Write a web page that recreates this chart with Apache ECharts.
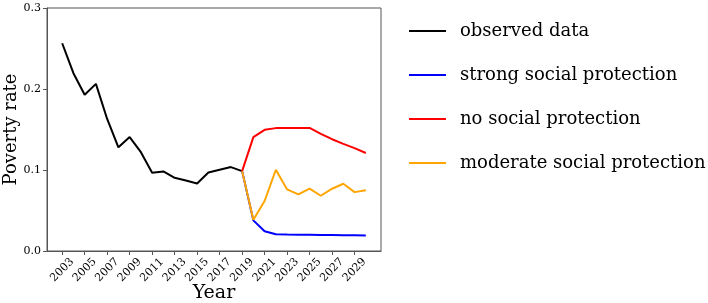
<!DOCTYPE html>
<html><head><meta charset="utf-8">
<script src="https://cdn.jsdelivr.net/npm/echarts@6/dist/echarts.min.js"></script>
<style>html,body{margin:0;padding:0;background:#fff}#c{width:708px;height:303px}</style>
</head><body><div id="c"></div>
<script>
const observedYears = [2003,2004,2005,2006,2007,2008,2009,2010,2011,2012,2013,2014,2015,2016,2017,2018,2019];
const observed = [0.2565,0.2195,0.1928,0.2063,0.163,0.128,0.1406,0.122,0.0966,0.0982,0.0904,0.0871,0.0834,0.097,0.1003,0.1036,0.0986];
const scenarioYears = [2019,2020,2021,2022,2023,2024,2025,2026,2027,2028,2029,2030];
const strong = [0.0986,0.0378,0.0243,0.0206,0.0203,0.0202,0.0201,0.0199,0.0197,0.0195,0.0193,0.0190];
const noProt = [0.0986,0.1406,0.1496,0.1517,0.152,0.152,0.152,0.1447,0.138,0.1323,0.127,0.121];
const moderate = [0.0986,0.0386,0.0617,0.1003,0.076,0.0699,0.0769,0.0682,0.0769,0.083,0.0727,0.0749];
const yearTicks = [2003,2005,2007,2009,2011,2013,2015,2017,2019,2021,2023,2025,2027,2029];
const names = ['observed data','strong social protection','no social protection','moderate social protection'];
const colors = ['#000000','#0000ff','#ff0000','#ffa500'];

const font = 'DejaVu Serif';
const zip = (xs, ys) => xs.map((x, i) => [x, ys[i]]);
const chart = echarts.init(document.getElementById('c'), null, {renderer: 'canvas'});
const mk = (i, xs, ys) => ({
  name: names[i], type: 'line', data: zip(xs, ys), symbol: 'none',
  lineStyle: {color: colors[i], width: 2}, itemStyle: {color: colors[i]}, animation: false, z: 2 + i
});
chart.setOption({
  animation: false,
  grid: {left: 47, top: 8, width: 334, height: 243, show: true, borderColor: '#555', borderWidth: 1,
    containLabel: false, outerBoundsMode: 'none'},
  xAxis: {
    type: 'value', min: 2001.65, max: 2031.35,
    name: 'Year', nameLocation: 'middle', nameGap: 33, nameMoveOverlap: false,
    nameTextStyle: {fontFamily: font, fontSize: 19, color: '#000'},
    axisLine: {show: true, lineStyle: {color: '#555', width: 1}},
    axisTick: {show: true, length: 4, lineStyle: {color: '#555'}, customValues: yearTicks},
    axisLabel: {show: true, rotate: 45, fontFamily: font, fontSize: 11, color: '#000', margin: 19,
      align: 'center', verticalAlign: 'middle', customValues: yearTicks, formatter: v => String(v)},
    splitLine: {show: false}
  },
  yAxis: {
    type: 'value', min: 0, max: 0.3, interval: 0.1,
    name: 'Poverty rate', nameLocation: 'middle', nameGap: 27, nameRotate: 90, nameMoveOverlap: false,
    nameTextStyle: {fontFamily: font, fontSize: 18, color: '#000'},
    axisLine: {show: true, lineStyle: {color: '#555', width: 1}},
    axisTick: {show: true, length: 4, lineStyle: {color: '#555'}},
    axisLabel: {fontFamily: font, fontSize: 11, color: '#000', margin: 6, formatter: v => v.toFixed(1)},
    splitLine: {show: false}
  },
  legend: {
    orient: 'vertical', left: 409, top: 21, padding: 0, itemWidth: 37, itemHeight: 20, itemGap: 24,
    icon: 'path://M0,0 L37,0 L37,2 L0,2 Z',
    textStyle: {fontFamily: font, fontSize: 18, color: '#000', padding: [0, 0, 0, 9], lineHeight: 20},
    data: names
  },
  series: [
    mk(0, observedYears, observed),
    mk(1, scenarioYears, strong),
    mk(2, scenarioYears, noProt),
    mk(3, scenarioYears, moderate)
  ]
});
</script></body></html>
